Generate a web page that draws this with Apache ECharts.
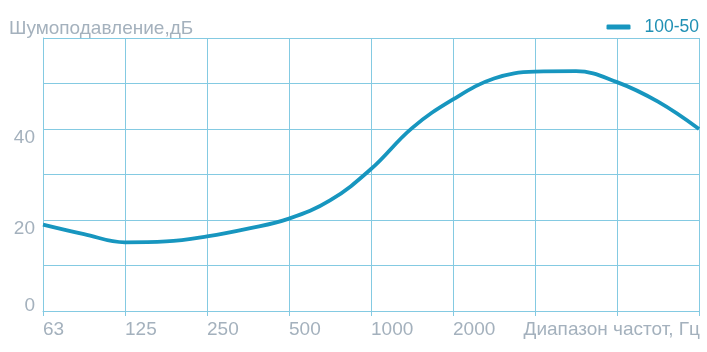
<!DOCTYPE html>
<html>
<head>
<meta charset="utf-8">
<script src="https://cdn.jsdelivr.net/npm/echarts@6/dist/echarts.min.js"></script>
<style>html,body{margin:0;padding:0;background:#fff}#c{width:707px;height:352px}</style>
</head>
<body>
<div id="c"></div>
<script>
// Half-octave frequency categories (Hz)
var frequencies = ['63','90','125','180','250','355','500','710','1000','1400','2000','2800','4000','5600','8000','11200','16000'];
// Octave labels shown on the axis
var tickLabels = ['63','125','250','500','1000','2000'];
// Noise reduction, dB, series "100-50"
var seriesName = '100-50';
var values = [19.0, 16.9, 15.1, 15.3, 16.4, 18.1, 20.3, 24.3, 31.2, 40.2, 46.5, 51.1, 52.6, 52.7, 50.3, 46.0, 40.0];
var yTicksTop = [20, 40];
var yTicksBottom = [0];
var titleText = 'Шумоподавление,дБ';
var xName = 'Диапазон частот, Гц';

var gridColor = '#84cae2';
var labelColor = '#a4b1bd';
var lineColor = '#1796bf';
var font = 'Liberation Sans, Arial, sans-serif';

var chart = echarts.init(document.getElementById('c'));
chart.setOption({
  animation: false,
  title: {
    text: titleText, left: 4, top: 14,
    textStyle: {fontSize: 19, fontWeight: 'normal', color: labelColor, fontFamily: font}
  },
  legend: {
    right: 3, top: 13,
    icon: 'roundRect', itemWidth: 24, itemHeight: 5, itemGap: 10,
    textStyle: {fontSize: 17.5, color: '#2090b4', fontFamily: font, padding: [0, 0, 0, 9]},
    data: [seriesName]
  },
  grid: {left: 43, right: 8, top: 38, bottom: 41, containLabel: false},
  xAxis: {
    type: 'category', boundaryGap: false, data: frequencies,
    name: xName, nameLocation: 'end', nameGap: 1,
    nameTextStyle: {fontSize: 19, color: labelColor, fontFamily: font, align: 'right', verticalAlign: 'top', padding: [9, 0, 0, 0]},
    axisLine: {lineStyle: {color: gridColor, width: 1}},
    axisTick: {show: true, length: 5, interval: function (i) { return i % 2 === 0; }, lineStyle: {color: gridColor}},
    axisLabel: {
      interval: function (i) { return i % 2 === 0 && tickLabels.indexOf(frequencies[i]) >= 0; },
      align: 'left', margin: 9, fontSize: 19, color: labelColor, fontFamily: font
    },
    splitLine: {show: true, interval: function (i) { return i % 2 === 0; }, lineStyle: {color: gridColor, width: 1}}
  },
  yAxis: [{
    type: 'value', min: 0, max: 60, interval: 10,
    axisLine: {show: true, lineStyle: {color: gridColor}},
    axisTick: {show: false},
    splitLine: {lineStyle: {color: gridColor, width: 1}},
    axisLabel: {
      margin: 8, fontSize: 19, lineHeight: 18, color: labelColor, fontFamily: font, verticalAlign: 'top',
      formatter: function (v) { return yTicksTop.indexOf(v) >= 0 ? String(v) : ''; }
    }
  }, {
    type: 'value', min: 0, max: 60, interval: 10, position: 'left',
    axisLine: {show: false}, axisTick: {show: false}, splitLine: {show: false},
    axisLabel: {
      margin: 8, fontSize: 19, lineHeight: 10, color: labelColor, fontFamily: font, verticalAlign: 'bottom',
      formatter: function (v) { return yTicksBottom.indexOf(v) >= 0 ? String(v) : ''; }
    }
  }],
  series: [{
    name: seriesName, type: 'line', data: values, smooth: 0.4,
    symbol: 'none', yAxisIndex: 0,
    lineStyle: {color: lineColor, width: 3.8}, itemStyle: {color: lineColor}
  }]
});
</script>
</body>
</html>
